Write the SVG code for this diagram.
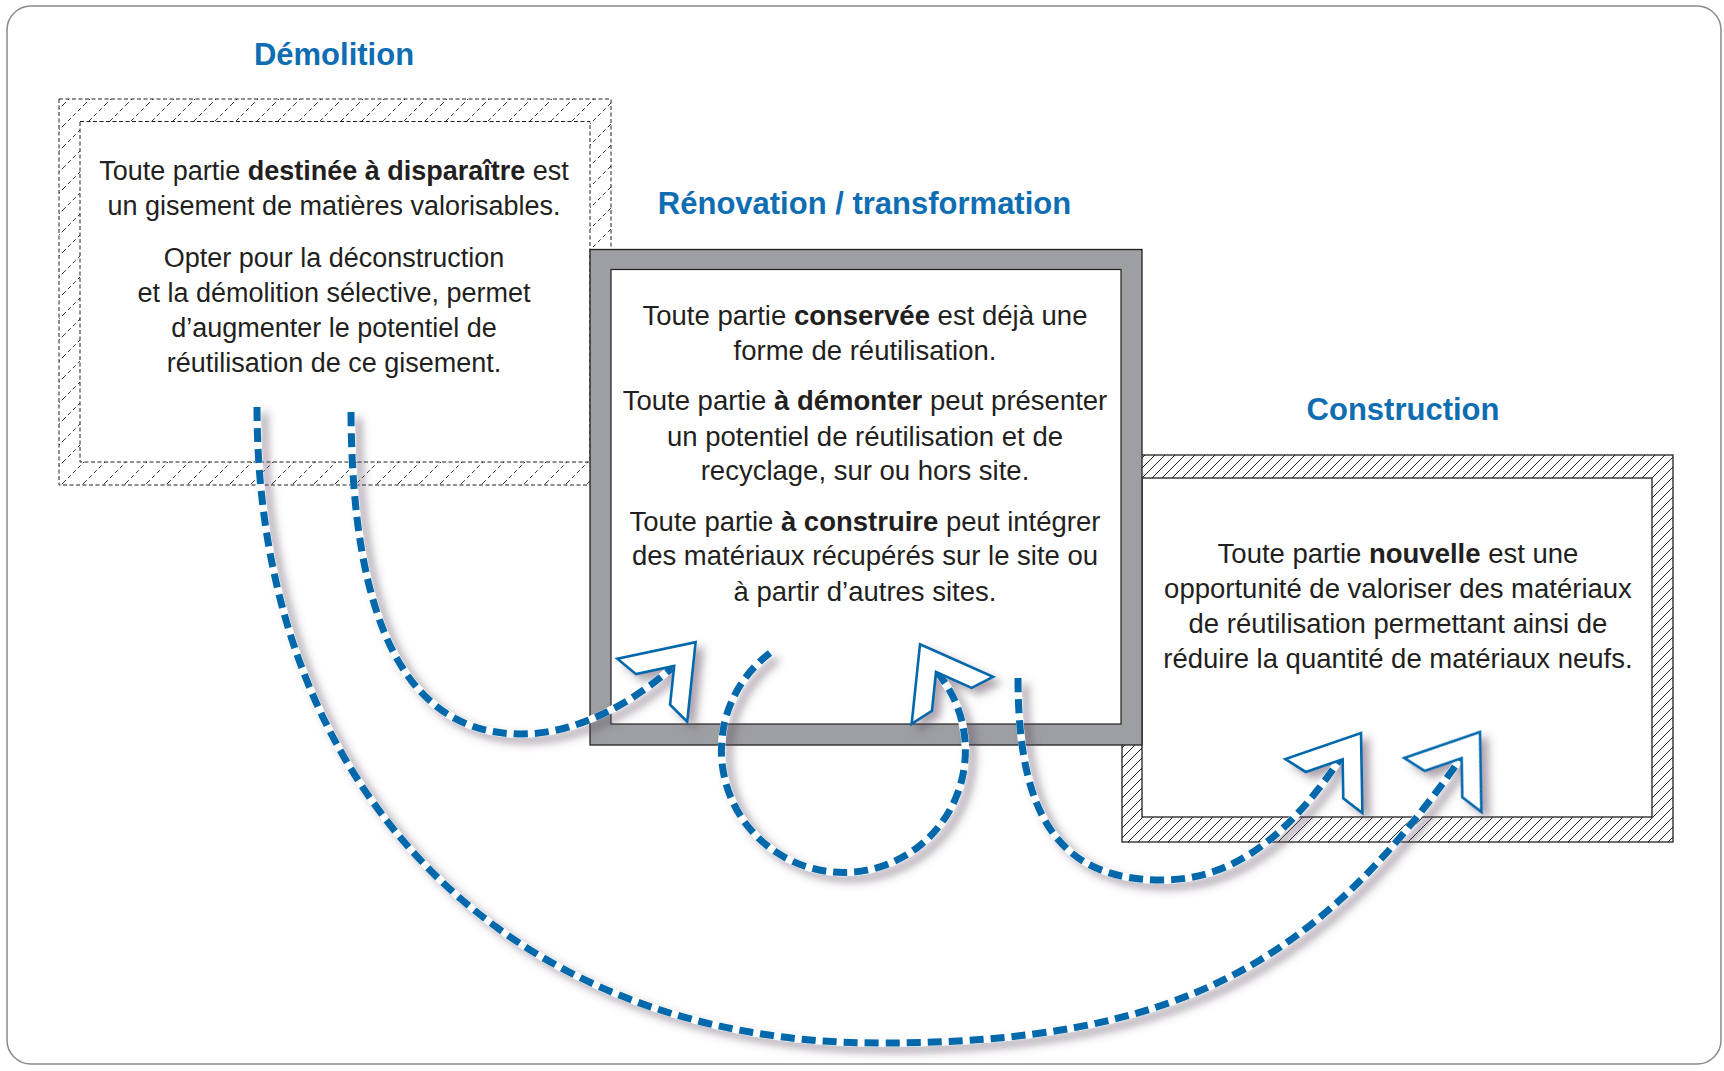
<svg xmlns="http://www.w3.org/2000/svg" xmlns:xlink="http://www.w3.org/1999/xlink" width="1724" height="1071" viewBox="0 0 1724 1071">
  <style>
    .title { font-family: "Liberation Sans", Arial, sans-serif; font-weight: bold; font-size: 31px; fill: #0f6db2; text-anchor: middle; }
    .body { font-family: "Liberation Sans", Arial, sans-serif; font-size: 27px; fill: #231f20; text-anchor: middle; }
    .body2 { font-family: "Liberation Sans", Arial, sans-serif; font-size: 27.5px; fill: #231f20; text-anchor: middle; }
    .b { font-weight: bold; }
    .dashbox { stroke: #231f20; stroke-width: 1; stroke-dasharray: 4 2.5; }
    .solidbox { stroke: #231f20; stroke-width: 1.3; }
    .casing { fill: none; stroke: #ffffff; stroke-width: 7.5; }
    .dash { fill: none; stroke: #0068ab; stroke-width: 7; stroke-dasharray: 14 7; }
    .arrow { fill: #ffffff; stroke: #0068ab; stroke-width: 2.6; stroke-linejoin: miter; }
  </style>
  <defs>
    <pattern id="hatchD" patternUnits="userSpaceOnUse" width="21" height="21">
      <path d="M-5,5 L5,-5 M0,21 L21,0 M16,26 L26,16" stroke="#231f20" stroke-width="0.9" stroke-dasharray="4 3" fill="none"/>
    </pattern>
    <pattern id="hatchC" patternUnits="userSpaceOnUse" width="10" height="10">
      <path d="M-3,3 L3,-3 M0,10 L10,0 M7,13 L13,7" stroke="#231f20" stroke-width="1" fill="none"/>
    </pattern>
    <filter id="sh" filterUnits="userSpaceOnUse" x="0" y="0" width="1724" height="1071">
      <feDropShadow dx="7" dy="6" stdDeviation="4.5" flood-color="#5b4a5e" flood-opacity="0.5"/>
    </filter>
    <polygon id="chev" points="0,0 -64.7,47 -63.6,22.9 -32,0 -63.6,-22.9 -64.7,-47"/>
    <path id="cA" d="M351,412 C352,620 405,734 521,734 C580,734 635,700 672,668"/>
    <path id="cB" d="M257,407 C257,789 506,1043 880,1043 C1180,1043 1318,962 1461,758"/>
    <path id="cC" d="M770,653 A122,122 0 1 0 936,671"/>
    <path id="cD" d="M1018,678 C1018,819 1061,880 1162,880 C1242,880 1296,824 1341,758"/>
  </defs>

  <rect x="0" y="0" width="1724" height="1071" fill="#ffffff"/>
  <rect id="frame" x="7" y="6" width="1714" height="1058" rx="24" ry="24" fill="#ffffff" stroke="#8a8a8a" stroke-width="1.5"/>

  <g id="node-demolition">
    <rect x="59" y="99" width="552" height="386" fill="url(#hatchD)" class="dashbox"/>
    <rect x="80" y="121.5" width="510" height="340.5" fill="#ffffff" class="dashbox"/>
    <text class="title" x="334" y="65">Démolition</text>
    <text class="body" x="334" y="180">Toute partie <tspan class="b">destinée à disparaître</tspan> est</text>
    <text class="body" x="334" y="215">un gisement de matières valorisables.</text>
    <text class="body" x="334" y="267">Opter pour la déconstruction</text>
    <text class="body" x="334" y="302">et la démolition sélective, permet</text>
    <text class="body" x="334" y="337">d’augmenter le potentiel de</text>
    <text class="body" x="334" y="372">réutilisation de ce gisement.</text>
  </g>

  <g id="node-construction">
    <rect x="1122" y="455" width="551" height="387" fill="url(#hatchC)" class="solidbox"/>
    <rect x="1142" y="478" width="510" height="339" fill="#ffffff" class="solidbox"/>
    <text class="title" x="1403" y="420">Construction</text>
    <text class="body2" x="1398" y="563">Toute partie <tspan class="b">nouvelle</tspan> est une</text>
    <text class="body2" x="1398" y="598">opportunité de valoriser des matériaux</text>
    <text class="body2" x="1398" y="633">de réutilisation permettant ainsi de</text>
    <text class="body2" x="1398" y="668">réduire la quantité de matériaux neufs.</text>
  </g>

  <g id="node-renovation">
    <rect x="590" y="249.5" width="552" height="495.5" fill="#9d9fa2" class="solidbox"/>
    <rect x="611" y="269.5" width="510" height="454.5" fill="#ffffff" stroke="#231f20" stroke-width="1.2"/>
    <text class="title" x="864.5" y="214">Rénovation / transformation</text>
    <text class="body2" x="865" y="325">Toute partie <tspan class="b">conservée</tspan> est déjà une</text>
    <text class="body2" x="865" y="359.5">forme de réutilisation.</text>
    <text class="body2" x="865" y="410">Toute partie <tspan class="b">à démonter</tspan> peut présenter</text>
    <text class="body2" x="865" y="445.5">un potentiel de réutilisation et de</text>
    <text class="body2" x="865" y="480">recyclage, sur ou hors site.</text>
    <text class="body2" x="865" y="531">Toute partie <tspan class="b">à construire</tspan> peut intégrer</text>
    <text class="body2" x="865" y="565">des matériaux récupérés sur le site ou</text>
    <text class="body2" x="865" y="600.5">à partir d’autres sites.</text>
  </g>

  <g id="connectors">
    <g id="conn-demolition-renovation" filter="url(#sh)">
      <use xlink:href="#cA" class="casing"/>
      <use xlink:href="#cA" class="dash"/>
      <use xlink:href="#chev" class="arrow" transform="translate(695.6,642.2) rotate(-48)"/>
    </g>
    <g id="conn-demolition-construction" filter="url(#sh)">
      <use xlink:href="#cB" class="casing"/>
      <use xlink:href="#cB" class="dash"/>
      <use xlink:href="#chev" class="arrow" transform="translate(1480,732) rotate(-55)"/>
    </g>
    <g id="conn-renovation-loop" filter="url(#sh)">
      <use xlink:href="#cC" class="casing"/>
      <use xlink:href="#cC" class="dash"/>
      <use xlink:href="#chev" class="arrow" transform="translate(920,644.3) rotate(-120)"/>
    </g>
    <g id="conn-renovation-construction" filter="url(#sh)">
      <use xlink:href="#cD" class="casing"/>
      <use xlink:href="#cD" class="dash"/>
      <use xlink:href="#chev" class="arrow" transform="translate(1361,733) rotate(-55)"/>
    </g>
  </g>
</svg>
